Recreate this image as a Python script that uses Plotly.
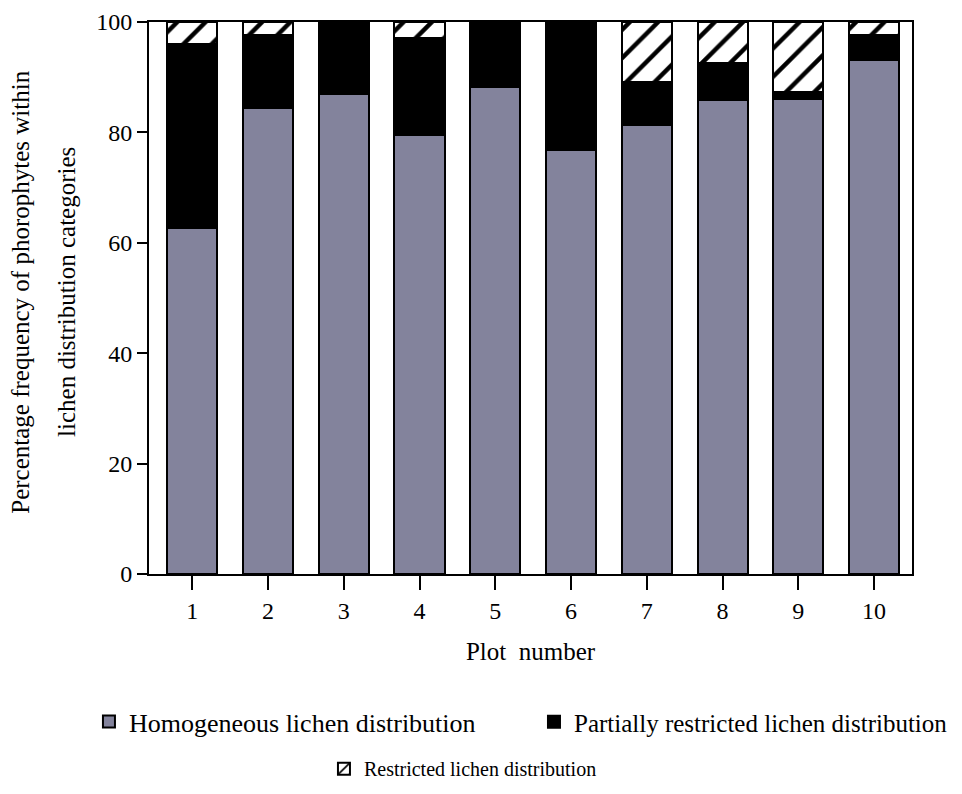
import plotly.graph_objects as go

plots = ["1", "2", "3", "4", "5", "6", "7", "8", "9", "10"]
homogeneous = [62.7, 84.5, 86.9, 79.6, 88.3, 76.8, 81.3, 85.9, 86.0, 93.1]
partially_restricted = [33.3, 13.2, 13.1, 17.5, 11.7, 23.2, 7.9, 6.6, 1.4, 4.5]
restricted = [4.0, 2.3, 0.0, 2.9, 0.0, 0.0, 10.8, 7.5, 12.6, 2.4]
yticks = [0, 20, 40, 60, 80, 100]

FONT = "Liberation Serif"
xs = list(range(1, len(plots) + 1))

fig = go.Figure()
fig.add_trace(go.Bar(
    x=xs, y=homogeneous, name="Homogeneous lichen distribution",
    marker=dict(color="#83839c", line=dict(color="black", width=2)),
    width=0.66, legend="legend2",
))
fig.add_trace(go.Bar(
    x=xs, y=partially_restricted, name="Partially restricted lichen distribution",
    marker=dict(color="black", line=dict(color="black", width=2)),
    width=0.66, legend="legend3",
))
fig.add_trace(go.Bar(
    x=xs, y=restricted, name="Restricted lichen distribution",
    marker=dict(color="white", line=dict(color="black", width=2),
                pattern=dict(shape="/", fgcolor="black", bgcolor="white",
                             fgopacity=1, size=20, solidity=0.22)),
    width=0.66, legend="legend4",
))

def leg(x, y, size, xanchor="left"):
    return dict(x=x, y=y, xanchor=xanchor, yanchor="bottom",
                font=dict(family=FONT, size=size, color="black"),
                bgcolor="rgba(0,0,0,0)")

fig.update_layout(
    barmode="stack",
    width=962, height=794,
    margin=dict(l=141, r=58, t=14, b=228),
    paper_bgcolor="white", plot_bgcolor="white",
    font=dict(family=FONT, size=24, color="black"),
    xaxis=dict(
        range=[0.43, 10.5], tickmode="array", tickvals=xs, ticktext=plots,
        showline=True, linecolor="black", linewidth=2, mirror=True,
        ticks="outside", ticklen=14, tickwidth=2, tickcolor="black",
        showgrid=False, zeroline=False, automargin=False,
        tickfont=dict(family=FONT, size=24),
        title=dict(text="Plot  number", font=dict(family=FONT, size=25), standoff=20),
    ),
    yaxis=dict(
        range=[0, 100], tickmode="array", tickvals=yticks,
        showline=True, linecolor="black", linewidth=2, mirror=True,
        ticks="outside", ticklen=10, tickwidth=2, tickcolor="black",
        showgrid=False, zeroline=False, automargin=False,
        tickfont=dict(family=FONT, size=24),
    ),
    annotations=[
        dict(text="Percentage frequency of phorophytes within", textangle=-90,
             xref="paper", yref="paper", x=-0.168, y=0.511, xanchor="center", yanchor="middle",
             showarrow=False, font=dict(family=FONT, size=25)),
        dict(text="lichen distribution categories", textangle=-90,
             xref="paper", yref="paper", x=-0.1075, y=0.511, xanchor="center", yanchor="middle",
             showarrow=False, font=dict(family=FONT, size=25)),
    ],
    showlegend=True,
    legend2=leg(-0.0787, -0.3098, 26),
    legend3=leg(1.0537, -0.3098, 25, xanchor="right"),
    legend4=leg(0.2293, -0.388, 20),
)

fig.write_html("out.html")
